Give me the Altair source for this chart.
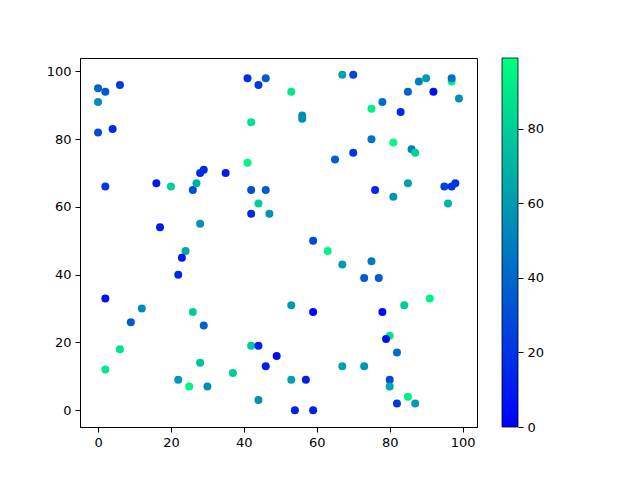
import altair as alt
import pandas as pd

xs = [0, 2, 6, 0, 0, 4, 2, 16, 20, 17, 26, 27, 28, 29, 35, 28, 41, 44, 46, 42, 41, 42, 46, 44, 42, 47,
      53, 56, 56, 67, 70, 75, 78, 83, 85, 88, 90, 92, 97, 97, 99, 65, 70, 75, 81, 86, 87, 76, 81, 85, 95, 97, 98, 96,
      24, 23, 22, 2, 12, 9, 26, 29, 6, 2, 28, 22, 25, 30, 37, 42, 44, 46, 49, 44,
      59, 63, 67, 75, 73, 77, 53, 59, 78, 84, 91, 80, 79, 82, 67, 73, 53, 57, 80, 80, 85, 82, 87, 54, 59]
ys = [95, 94, 96, 91, 82, 83, 66, 67, 66, 54, 65, 67, 70, 71, 70, 55, 98, 96, 98, 85, 73, 65, 65, 61, 58, 58,
      94, 87, 86, 99, 99, 89, 91, 88, 94, 97, 98, 94, 97, 98, 92, 74, 76, 80, 79, 77, 76, 65, 63, 67, 66, 66, 67, 61,
      47, 45, 40, 33, 30, 26, 29, 25, 18, 12, 14, 9, 7, 7, 11, 19, 19, 13, 16, 3,
      50, 47, 43, 44, 39, 39, 31, 29, 29, 31, 33, 22, 21, 17, 13, 13, 9, 9, 9, 7, 4, 2, 2, 0, 0]
cs = [38, 35, 22, 55, 28, 15, 22, 10, 80, 10, 30, 68, 15, 17, 10, 57, 18, 22, 35, 88, 95, 30, 35, 80, 15, 57,
      90, 55, 55, 62, 28, 93, 42, 15, 38, 50, 60, 5, 92, 43, 57, 37, 20, 45, 97, 50, 82, 15, 58, 62, 25, 20, 20, 70,
      65, 10, 15, 5, 55, 35, 80, 37, 88, 90, 77, 57, 95, 55, 80, 78, 12, 12, 5, 55,
      28, 95, 60, 48, 35, 35, 60, 5, 5, 80, 93, 90, 5, 42, 63, 57, 62, 12, 28, 65, 93, 22, 60, 12, 12]

cbar_ticks = [0, 20, 40, 60, 80]
axis_ticks = [0, 20, 40, 60, 80, 100]

df = pd.DataFrame({"x": xs, "y": ys, "c": cs})
cb = pd.DataFrame({"lo": [0], "hi": [99]})

FONT = "DejaVu Sans"
W, H = 397, 369

color_scale = alt.Scale(domain=[0, 99], range=["#0000ff", "#00ff80"], interpolate="rgb")

points = alt.Chart(df).mark_circle(size=64, opacity=1).encode(
    x=alt.X("x:Q", scale=alt.Scale(domain=[-4.95, 103.95], nice=False, zero=False),
            axis=alt.Axis(values=axis_ticks, title=None, grid=False, format="d")),
    y=alt.Y("y:Q", scale=alt.Scale(domain=[-4.95, 103.95], nice=False, zero=False),
            axis=alt.Axis(values=axis_ticks, title=None, grid=False, format="d")),
    color=alt.Color("c:Q", scale=color_scale, legend=None),
)

grad = alt.LinearGradient(
    gradient="linear",
    stops=[alt.GradientStop(offset=0, color="#0000ff"), alt.GradientStop(offset=1, color="#00ff80")],
    x1=0, x2=0, y1=1, y2=0,
)

cbar = alt.Chart(cb).mark_rect(fill=grad, stroke="black", strokeWidth=0.8).encode(
    x=alt.value(W + 25),
    x2=alt.value(W + 41),
    y=alt.Y("lo:Q", scale=alt.Scale(domain=[0, 99], nice=False, zero=False),
            axis=alt.Axis(values=cbar_ticks, title=None, grid=False, domain=False,
                          orient="right", offset=41, format="d")),
    y2="hi:Q",
)

chart = alt.layer(points, cbar).resolve_scale(y="independent").properties(
    width=W, height=H,
    autosize=alt.AutoSizeParams(type="none"),
    padding={"left": 72, "top": 50, "right": 640 - 16 - 72 - W, "bottom": 480 - 16 - 50 - H},
).configure_view(stroke="black", strokeWidth=1).configure_axis(
    domainColor="black", tickColor="black", labelColor="black",
    labelFont=FONT, labelFontSize=13, tickSize=5, labelPadding=4, domainWidth=1,
)

chart.save("out.html", embed_options={"renderer": "svg", "actions": False})
